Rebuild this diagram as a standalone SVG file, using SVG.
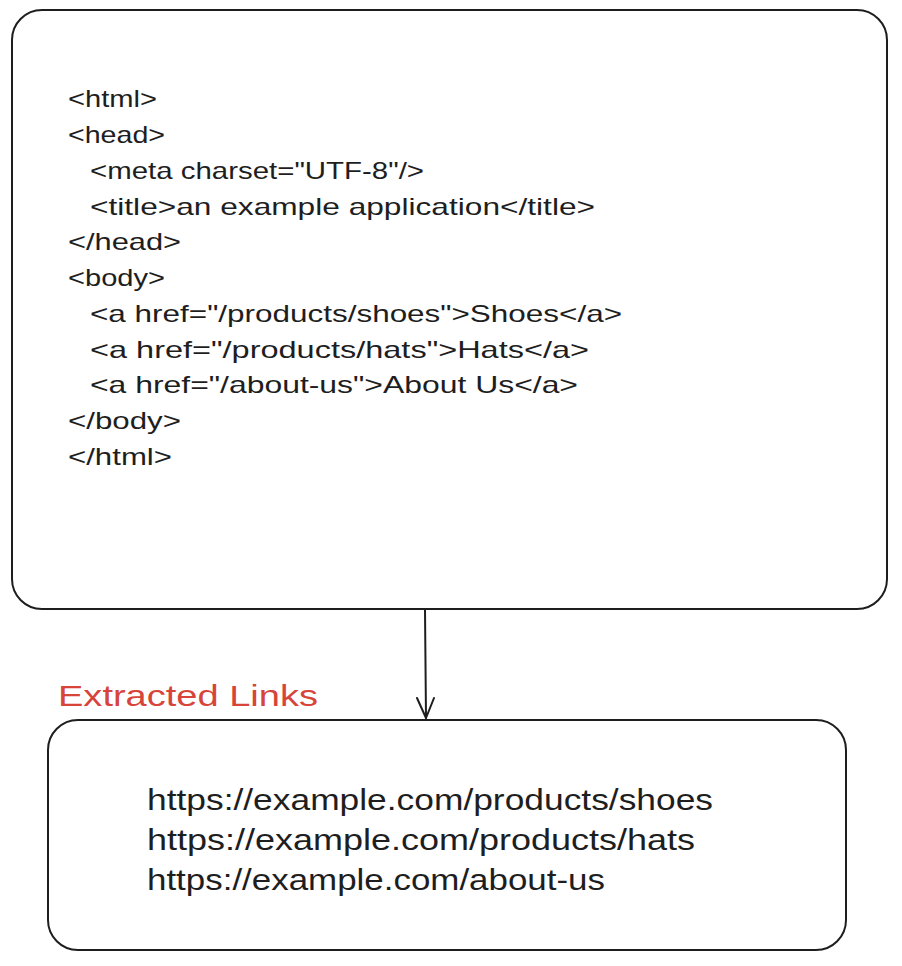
<svg xmlns="http://www.w3.org/2000/svg" width="902" height="966" viewBox="0 0 902 966">
<defs>
<style>
.box{fill:#ffffff;stroke:#1e1e1e;stroke-width:2}
.code{font-family:"Liberation Sans","DejaVu Sans",sans-serif;font-size:24px;fill:#1e1e1e}
.link{font-family:"Liberation Sans","DejaVu Sans",sans-serif;font-size:29px;fill:#1e1e1e}
.label{font-family:"Liberation Sans","DejaVu Sans",sans-serif;font-size:29px;fill:#d7443a}
.conn{fill:none;stroke:#1e1e1e;stroke-width:2;stroke-linecap:round;stroke-linejoin:round}
</style>
</defs>
<rect width="902" height="966" fill="#ffffff"/>
<g id="html-source">
<rect class="box" x="12" y="10" width="875" height="599" rx="30" ry="30"/>
<text class="code" x="68" y="107" textLength="89" lengthAdjust="spacingAndGlyphs">&lt;html&gt;</text>
<text class="code" x="68" y="143" textLength="97" lengthAdjust="spacingAndGlyphs">&lt;head&gt;</text>
<text class="code" x="90" y="179" textLength="334" lengthAdjust="spacingAndGlyphs">&lt;meta charset="UTF-8"/&gt;</text>
<text class="code" x="90" y="215" textLength="505" lengthAdjust="spacingAndGlyphs">&lt;title&gt;an example application&lt;/title&gt;</text>
<text class="code" x="68" y="250" textLength="113" lengthAdjust="spacingAndGlyphs">&lt;/head&gt;</text>
<text class="code" x="68" y="286" textLength="97" lengthAdjust="spacingAndGlyphs">&lt;body&gt;</text>
<text class="code" x="90" y="322" textLength="532" lengthAdjust="spacingAndGlyphs">&lt;a href="/products/shoes"&gt;Shoes&lt;/a&gt;</text>
<text class="code" x="90" y="358" textLength="499" lengthAdjust="spacingAndGlyphs">&lt;a href="/products/hats"&gt;Hats&lt;/a&gt;</text>
<text class="code" x="90" y="393" textLength="488" lengthAdjust="spacingAndGlyphs">&lt;a href="/about-us"&gt;About Us&lt;/a&gt;</text>
<text class="code" x="68" y="429" textLength="113" lengthAdjust="spacingAndGlyphs">&lt;/body&gt;</text>
<text class="code" x="68" y="465" textLength="104" lengthAdjust="spacingAndGlyphs">&lt;/html&gt;</text>
</g>
<g id="extracted-label">
<text class="label" x="58" y="706" textLength="260" lengthAdjust="spacingAndGlyphs">Extracted Links</text>
</g>
<g id="extracted-links">
<rect class="box" x="48" y="720" width="798" height="230" rx="30" ry="30"/>
<text class="link" x="147" y="810" textLength="566" lengthAdjust="spacingAndGlyphs">https://example.com/products/shoes</text>
<text class="link" x="147" y="850" textLength="548" lengthAdjust="spacingAndGlyphs">https://example.com/products/hats</text>
<text class="link" x="147" y="890" textLength="458" lengthAdjust="spacingAndGlyphs">https://example.com/about-us</text>
</g>
<g id="connectors">
<path class="conn" d="M425 610 L426 718"/>
<path class="conn" d="M417 698 L426 718 L434 698"/>
</g>
</svg>
